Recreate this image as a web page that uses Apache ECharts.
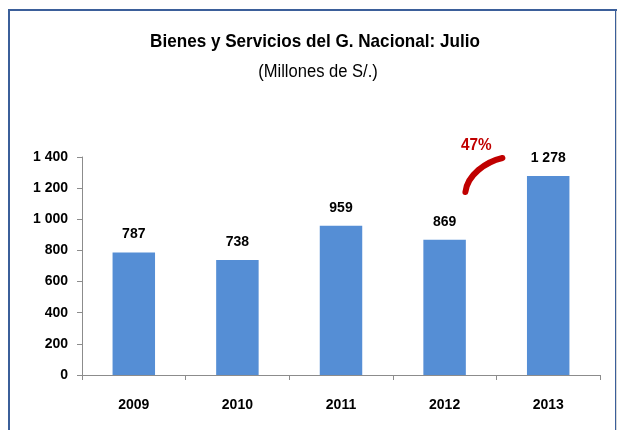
<!DOCTYPE html>
<html>
<head>
<meta charset="utf-8">
<script src="https://cdn.jsdelivr.net/npm/echarts@6/dist/echarts.min.js"></script>
<style>
  html, body { margin: 0; padding: 0; background: #fff; }
  #main { width: 618px; height: 430px; }
</style>
</head>
<body>
<div id="main"></div>
<script>
// datos del grafico
var years = ['2009', '2010', '2011', '2012', '2013'];
var values = [787, 738, 959, 869, 1278];
var yTicks = [0, 200, 400, 600, 800, 1000, 1200, 1400];
var growthLabel = '47%';

var FONT = "'Liberation Sans', Arial, sans-serif";

// separador de miles con espacio: 1278 -> "1 278"
function fmt(v) {
    return String(v).replace(/\B(?=(\d{3})+(?!\d))/g, ' ');
}

var chart = echarts.init(document.getElementById('main'));

var option = {
    animation: false,
    grid: { left: 82, right: 18, top: 157, bottom: 55 },
    xAxis: {
        type: 'category',
        data: years,
        axisLine: { lineStyle: { color: '#8c8c8c', width: 1 } },
        axisTick: { show: true, length: 5, lineStyle: { color: '#8c8c8c' } },
        axisLabel: {
            margin: 23,
            color: '#000',
            fontFamily: FONT,
            fontWeight: 'bold',
            fontSize: 14
        }
    },
    yAxis: {
        type: 'value',
        min: yTicks[0],
        max: yTicks[yTicks.length - 1],
        interval: 200,
        axisLine: { show: true, lineStyle: { color: '#8c8c8c', width: 1 } },
        axisTick: { show: true, length: 5, lineStyle: { color: '#8c8c8c' } },
        splitLine: { show: false },
        axisLabel: {
            margin: 14,
            color: '#000',
            fontFamily: FONT,
            fontWeight: 'bold',
            fontSize: 14,
            formatter: fmt
        }
    },
    series: [{
        type: 'bar',
        data: values,
        barWidth: '41%',
        itemStyle: { color: '#558ED5' },
        label: {
            show: true,
            position: 'top',
            distance: 11,
            color: '#000',
            fontFamily: FONT,
            fontWeight: 'bold',
            fontSize: 14,
            formatter: function (p) { return fmt(p.value); }
        }
    }]
};
chart.setOption(option);

// flecha roja de crecimiento entre 2012 y 2013
var p13 = chart.convertToPixel({ seriesIndex: 0 }, [4, values[4]]);
var p12 = chart.convertToPixel({ seriesIndex: 0 }, [3, values[3]]);
var mx = (p12[0] + p13[0]) / 2;
var my = p13[1];

chart.setOption({
    graphic: [
        {
            id: 'marco',
            type: 'rect',
            shape: { x: 9, y: 10, width: 607, height: 440 },
            style: { fill: 'none', stroke: '#3b5f9a', lineWidth: 2 },
            silent: true
        },
        {
            id: 'borde',
            type: 'line',
            shape: { x1: 616.5, y1: 11, x2: 616.5, y2: 430 },
            style: { stroke: '#d9d9d9', lineWidth: 1 },
            silent: true
        },
        {
            id: 'titulo',
            type: 'text',
            x: 315,
            y: 42,
            scaleX: 0.9,
            style: {
                text: 'Bienes y Servicios del G. Nacional: Julio',
                font: 'bold 19px ' + FONT,
                fill: '#000',
                align: 'center',
                verticalAlign: 'middle'
            }
        },
        {
            id: 'subtitulo',
            type: 'text',
            x: 318,
            y: 72,
            scaleX: 0.92,
            style: {
                text: '(Millones de S/.)',
                font: '18px ' + FONT,
                fill: '#000',
                align: 'center',
                verticalAlign: 'middle'
            }
        },
        {
            id: 'flecha',
            type: 'bezierCurve',
            shape: {
                x1: mx + 6, y1: my - 18,
                cpx1: mx - 11, cpy1: my - 14,
                cpx2: mx - 29, cpy2: my - 1,
                x2: mx - 31, y2: my + 16
            },
            style: { stroke: '#c00000', lineWidth: 6, lineCap: 'round', fill: 'none' },
            silent: true
        },
        {
            id: 'crecimiento',
            type: 'text',
            x: mx - 20,
            y: my - 31,
            scaleX: 0.9,
            style: {
                text: growthLabel,
                font: 'bold 17px ' + FONT,
                fill: '#c00000',
                align: 'center',
                verticalAlign: 'middle'
            }
        }
    ]
});
</script>
</body>
</html>
